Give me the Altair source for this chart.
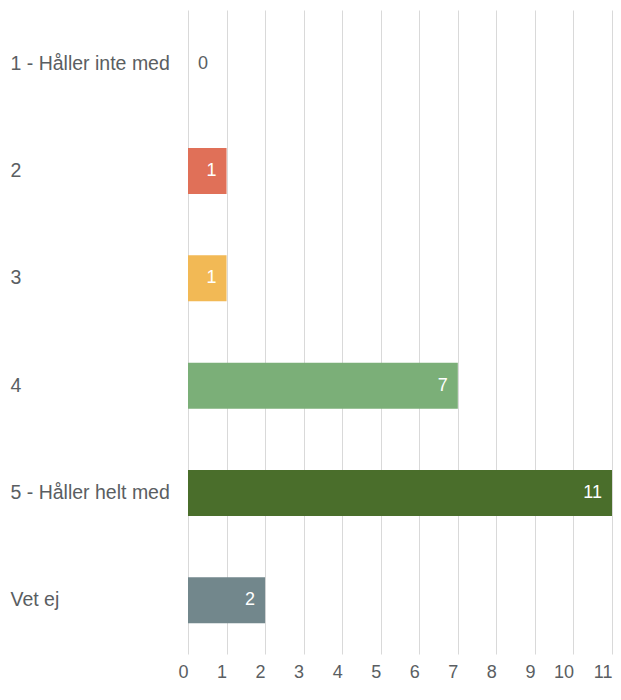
import altair as alt
import pandas as pd

categories = ["1 - Håller inte med", "2", "3", "4", "5 - Håller helt med", "Vet ej"]
values = [0, 1, 1, 7, 11, 2]
colors = ["#cccccc", "#E07058", "#F2B955", "#7BAF78", "#4A6E2B", "#72878C"]
x_ticks = list(range(0, 12))

df = pd.DataFrame({"cat": categories, "value": values, "color": colors})

font = "Liberation Sans"
label_color = "#5a5e62"

y_enc = alt.Y("cat:N", sort=categories,
              scale=alt.Scale(paddingInner=0.58, paddingOuter=0.29),
              axis=alt.Axis(title=None, ticks=False, tickSize=0, domain=False,
                            labelAlign="left", labelPadding=178, labelFontSize=19.5,
                            labelFont=font, labelColor=label_color, grid=False,
                            labelLimit=200))
x_enc = alt.X("value:Q", scale=alt.Scale(domain=[0, 11], nice=False),
              axis=alt.Axis(title=None, values=x_ticks, ticks=False, domain=False,
                            labelFontSize=18, labelFont=font, labelColor=label_color,
                            labelPadding=9, labelAlign="right", labelOffset=0,
                            labelOverlap=False, labelFlush=False, labelBound=False,
                            grid=True, gridColor="#d9d9d9", gridWidth=1))

base = alt.Chart(df).encode(x=x_enc, y=y_enc)

bars = base.mark_bar(size=46).encode(
    color=alt.Color("color:N", scale=None),
)

inside = base.transform_filter("datum.value > 0").mark_text(
    align="right", dx=-10, baseline="middle", fontSize=18, font=font, color="white"
).encode(text="value:Q")

outside = base.transform_filter("datum.value == 0").mark_text(
    align="left", dx=10, baseline="middle", fontSize=18, font=font, color=label_color
).encode(text="value:Q")

chart = alt.layer(bars, inside, outside).properties(
    width=424, height=644,
    autosize=alt.AutoSizeParams(type="none"),
    padding={"left": 180, "top": 2, "right": 1, "bottom": 32},
).configure_view(stroke=None)

chart.save("out.html", embed_options={"renderer": "svg", "actions": False})
